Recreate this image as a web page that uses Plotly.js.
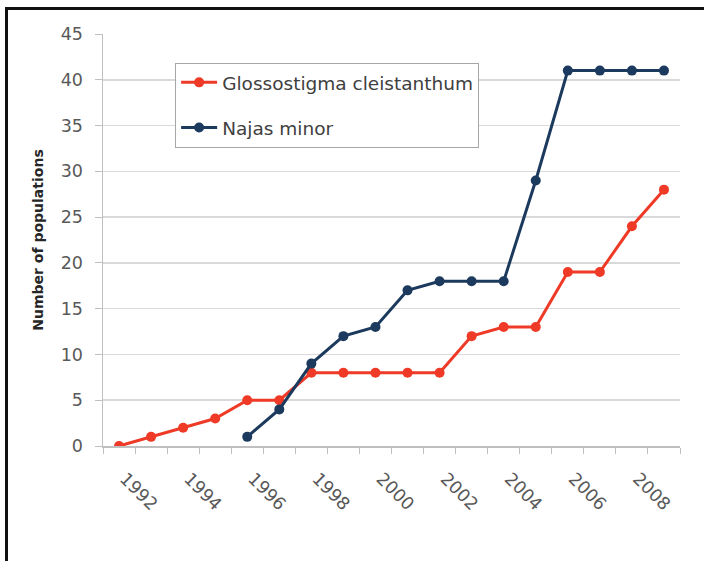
<!DOCTYPE html>
<html>
<head>
<meta charset="utf-8">
<script src="https://cdn.plot.ly/plotly-3.0.1.min.js"></script>
<style>
html,body{margin:0;padding:0;background:#fff;}
#chart{width:704px;height:561px;position:relative;}
#frame{position:absolute;left:5px;top:7px;width:704px;height:600px;border-left:3px solid #111;border-top:3px solid #111;pointer-events:none;}
</style>
</head>
<body>
<div id="chart"></div>
<div id="frame"></div>
<script>
const years = [1992,1993,1994,1995,1996,1997,1998,1999,2000,2001,2002,2003,2004,2005,2006,2007,2008,2009];
const glossostigma = [0,1,2,3,5,5,8,8,8,8,8,12,13,13,19,19,24,28];
const najas = [null,null,null,null,1,4,9,12,13,17,18,18,18,29,41,41,41,41];
const tickYears = [1992,1994,1996,1998,2000,2002,2004,2006,2008];
const tickLabels = ['1992','1994','1996','1998','2000','2002','2004','2006','2008'];
const yTicks = [0,5,10,15,20,25,30,35,40,45];

const fontFam = '"DejaVu Sans", sans-serif';
const traces = [
  {x: years, y: glossostigma, name: 'Glossostigma cleistanthum', legendgroup: 'g1', type: 'scatter', mode: 'lines+markers',
   line: {color: '#ee3a26', width: 3}, marker: {color: '#ee3a26', size: 10}},
  {x: years, y: najas, name: 'Najas minor', legendgroup: 'g2', type: 'scatter', mode: 'lines+markers',
   line: {color: '#1c3a5e', width: 3}, marker: {color: '#1c3a5e', size: 10}}
];
const layout = {
  width: 704, height: 561,
  margin: {l: 103, r: 24, t: 34, b: 115},
  paper_bgcolor: '#fff', plot_bgcolor: '#fff',
  font: {family: fontFam, color: '#595959', size: 17},
  showlegend: true,
  legend: {x: 0.125, y: 0.93, xanchor: 'left', yanchor: 'top', bgcolor: '#fff',
    traceorder: 'grouped', tracegroupgap: 18, itemwidth: 36,
    bordercolor: '#a6a6a6', borderwidth: 1, font: {size: 18.5, color: '#404040', family: fontFam}},
  xaxis: {range: [1991.5, 2009.5], tickvals: tickYears, ticktext: tickLabels, tickangle: 45,
    ticks: '', ticklabelstandoff: 14, ticklabelshift: 6, showgrid: false, zeroline: false, showline: true, linecolor: '#bfbfbf', linewidth: 1.5,
    tickfont: {size: 17.5, color: '#595959'},
    minor: {ticks: 'outside', tick0: 1991.5, dtick: 1, ticklen: 6, tickcolor: '#bfbfbf', tickwidth: 1, showgrid: false}},
  yaxis: {range: [0, 45], tickvals: yTicks, ticks: 'outside', ticklen: 7, tickcolor: '#bfbfbf', ticklabelstandoff: 8,
    showgrid: true, gridcolor: '#d9d9d9', gridwidth: 1.5, zeroline: false, showline: true,
    linecolor: '#bfbfbf', linewidth: 1.5, tickfont: {size: 17.5, color: '#595959'},
    title: {text: 'Number of populations', font: {size: 14, color: '#262626', family: fontFam, weight: 'bold'}, standoff: 14}}
};
Plotly.newPlot('chart', traces, layout, {displayModeBar: false, staticPlot: true});
</script>
</body>
</html>
